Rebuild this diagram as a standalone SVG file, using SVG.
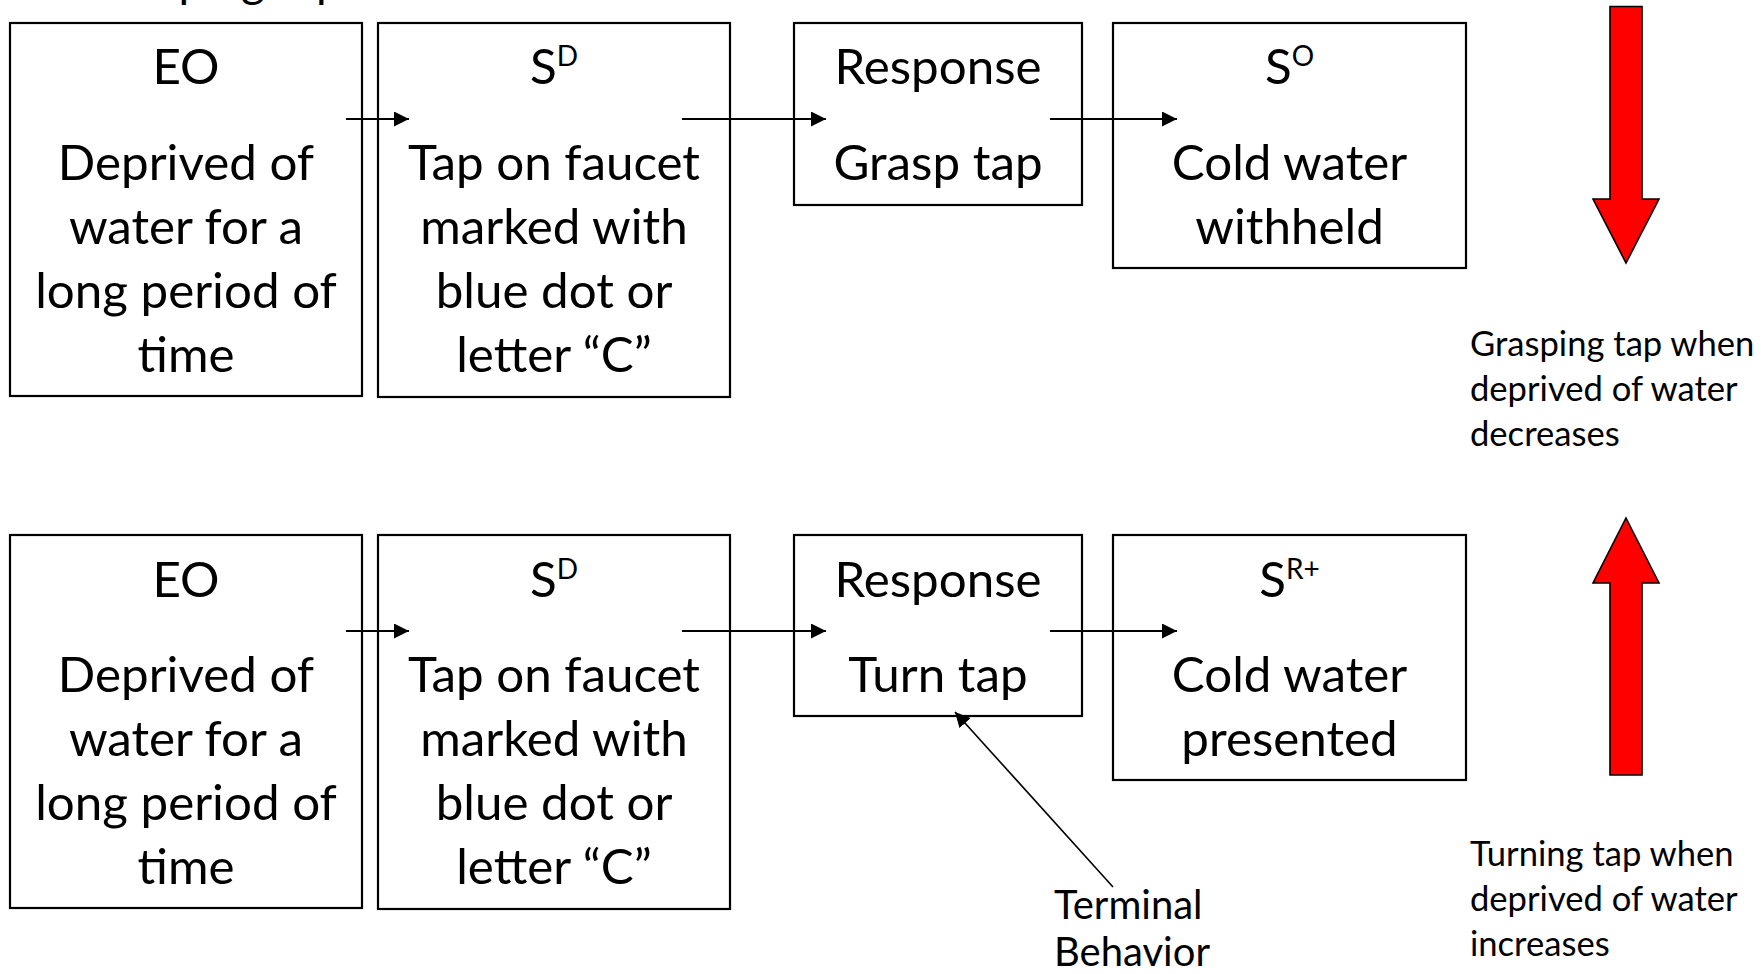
<svg xmlns="http://www.w3.org/2000/svg" width="1763" height="974" viewBox="0 0 1763 974">
<defs>
<style>
.box{fill:#fff;stroke:#000;stroke-width:2.2}
.big{font-family:Lato,"Open Sans","Liberation Sans",sans-serif;font-size:49.3px;fill:#000;text-anchor:middle}
.sup{font-size:28px}
.small{font-family:Lato,"Open Sans","Liberation Sans",sans-serif;font-size:34.6px;fill:#000}
.term{font-size:40px}
.conn{stroke:#000;stroke-width:2;fill:none}
.thin{stroke:#000;stroke-width:1.6;fill:none}
.red{fill:#FF0000;stroke:#000;stroke-width:1.6}
</style>
<marker id="ah" viewBox="0 0 10 10" refX="10" refY="5" markerWidth="15" markerHeight="15" markerUnits="userSpaceOnUse" orient="auto">
<path d="M0,0 L10,5 L0,10 Z" fill="#000"/>
</marker>
</defs>
<rect width="1763" height="974" fill="#fff"/>

<text class="small" x="86" y="-3" style="font-size:46px">Grasping tap</text>

<g id="eo1"><rect class="box" x="10" y="23" width="352" height="373"/>
<text class="big"><tspan x="186" y="84">EO</tspan><tspan x="186" y="179.7">Deprived of</tspan><tspan x="186" y="243.7">water for a</tspan><tspan x="186" y="307.7">long period of</tspan><tspan x="186" y="371.7">time</tspan></text></g>

<g id="sd1"><rect class="box" x="378" y="23" width="352" height="374"/>
<text class="big"><tspan x="554" y="84">S<tspan class="sup" dy="-18">D</tspan></tspan><tspan x="554" y="179.7">Tap on faucet</tspan><tspan x="554" y="243.7">marked with</tspan><tspan x="554" y="307.7">blue dot or</tspan><tspan x="554" y="371.7">letter “C”</tspan></text></g>

<g id="resp1"><rect class="box" x="794" y="23" width="288" height="182"/>
<text class="big"><tspan x="938" y="84">Response</tspan><tspan x="938" y="179.7">Grasp tap</tspan></text></g>

<g id="so1"><rect class="box" x="1113" y="23" width="353" height="245"/>
<text class="big"><tspan x="1289.5" y="84">S<tspan class="sup" dy="-18">O</tspan></tspan><tspan x="1289.5" y="179.7">Cold water</tspan><tspan x="1289.5" y="243.7">withheld</tspan></text></g>

<g id="eo2"><rect class="box" x="10" y="535" width="352" height="373"/>
<text class="big"><tspan x="186" y="596.5">EO</tspan><tspan x="186" y="692.2">Deprived of</tspan><tspan x="186" y="756.2">water for a</tspan><tspan x="186" y="820.2">long period of</tspan><tspan x="186" y="884.2">time</tspan></text></g>

<g id="sd2"><rect class="box" x="378" y="535" width="352" height="374"/>
<text class="big"><tspan x="554" y="596.5">S<tspan class="sup" dy="-18">D</tspan></tspan><tspan x="554" y="692.2">Tap on faucet</tspan><tspan x="554" y="756.2">marked with</tspan><tspan x="554" y="820.2">blue dot or</tspan><tspan x="554" y="884.2">letter “C”</tspan></text></g>

<g id="resp2"><rect class="box" x="794" y="535" width="288" height="181"/>
<text class="big"><tspan x="938" y="596.5">Response</tspan><tspan x="938" y="692.2">Turn tap</tspan></text></g>

<g id="sr2"><rect class="box" x="1113" y="535" width="353" height="245"/>
<text class="big"><tspan x="1289.5" y="596.5">S<tspan class="sup" dy="-18">R+</tspan></tspan><tspan x="1289.5" y="692.2">Cold water</tspan><tspan x="1289.5" y="756.2">presented</tspan></text></g>

<g id="connectors">
<line class="conn" x1="346" y1="119" x2="409" y2="119" marker-end="url(#ah)"/>
<line class="conn" x1="682" y1="119" x2="826" y2="119" marker-end="url(#ah)"/>
<line class="conn" x1="1050" y1="119" x2="1177" y2="119" marker-end="url(#ah)"/>
<line class="conn" x1="346" y1="631" x2="409" y2="631" marker-end="url(#ah)"/>
<line class="conn" x1="682" y1="631" x2="826" y2="631" marker-end="url(#ah)"/>
<line class="conn" x1="1050" y1="631" x2="1177" y2="631" marker-end="url(#ah)"/>
<line class="thin" x1="1113" y1="887" x2="955" y2="712" marker-end="url(#ah)"/>
</g>

<g id="arrow-down"><polygon class="red" points="1610,6.5 1642,6.5 1642,199 1659,199 1626,263 1593,199 1610,199"/></g>
<g id="arrow-up"><polygon class="red" points="1626,518 1659,583 1642,583 1642,775 1610,775 1610,583 1593,583"/></g>

<g id="label-decreases"><text class="small"><tspan x="1470" y="355.5">Grasping tap when</tspan><tspan x="1470" y="400.5">deprived of water</tspan><tspan x="1470" y="445.5">decreases</tspan></text></g>
<g id="label-increases"><text class="small"><tspan x="1470" y="865.5">Turning tap when</tspan><tspan x="1470" y="910.5">deprived of water</tspan><tspan x="1470" y="955.5">increases</tspan></text></g>
<g id="label-terminal"><text class="small term"><tspan x="1054" y="919">Terminal</tspan><tspan x="1054" y="966">Behavior</tspan></text></g>
</svg>
